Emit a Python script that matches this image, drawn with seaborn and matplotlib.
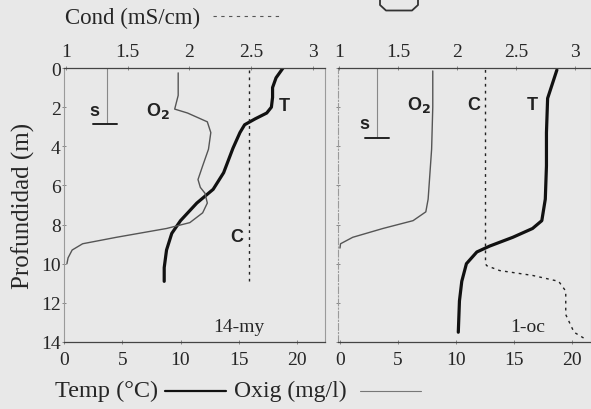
import matplotlib
matplotlib.use("Agg")
import matplotlib.pyplot as plt
import seaborn as sns
import pandas as pd
from matplotlib.lines import Line2D

# ---------------- data ----------------
# Panel 1: 14-my
t1_depth = [0.0, 0.5, 1.0, 1.5, 2.0, 2.3, 2.6, 2.9, 3.3, 4.1, 5.35, 6.2, 6.9, 7.8, 8.45, 9.3, 10.2, 10.9]
t1_temp = [18.8, 18.2, 17.9, 17.9, 17.8, 17.4, 16.4, 15.5, 15.1, 14.5, 13.7, 12.8, 11.4, 10.0, 9.25, 8.8, 8.6, 8.6]
o1_depth = [0.25, 1.4, 2.1, 2.3, 2.75, 3.3, 4.15, 5.0, 5.7, 6.1, 6.4, 6.9, 7.4, 7.9, 8.2, 8.65, 8.98, 9.3, 9.7, 10.0]
o1_oxy = [9.8, 9.8, 9.5, 10.6, 12.3, 12.6, 12.4, 11.9, 11.5, 11.7, 12.1, 12.3, 11.9, 10.8, 8.8, 4.5, 1.6, 0.7, 0.35, 0.25]
c1_depth = [0.1, 10.9]
c1_cond = [2.48, 2.48]

# Panel 2: 1-oc
t2_depth = [0.1, 1.55, 3.3, 5.0, 6.7, 7.8, 8.2, 8.65, 9.1, 9.4, 10.0, 10.9, 11.9, 13.5]
t2_temp = [18.7, 17.9, 17.8, 17.8, 17.7, 17.4, 16.6, 14.9, 12.9, 11.8, 10.9, 10.5, 10.3, 10.2]
o2_depth = [0.15, 2.0, 4.15, 6.7, 7.35, 7.8, 8.2, 8.65, 8.98, 9.2]
o2_oxy = [8.0, 8.0, 7.9, 7.6, 7.4, 6.3, 3.7, 1.1, 0.05, 0.0]
c2_depth = [0.1, 10.0, 10.1, 10.35, 10.6, 10.9, 11.4, 12.6, 13.5, 13.9]
c2_cond = [2.24, 2.24, 2.25, 2.36, 2.64, 2.86, 2.92, 2.92, 2.99, 3.10]

secchi_depth = [2.85, 3.6]
panel_names = ["14-my", "1-oc"]
temp_ticks = [0, 5, 10, 15, 20]
cond_ticks = [1, 1.5, 2, 2.5, 3]
cond_labels = ["1", "1.5", "2", "2.5", "3"]
depth_ticks = [0, 2, 4, 6, 8, 10, 12, 14]

# ---------------- style ----------------
sns.set_theme(style="white")
BG = "#e8e8e8"
plt.rcParams["font.family"] = ["Liberation Serif", "DejaVu Serif"]
plt.rcParams["figure.facecolor"] = BG
plt.rcParams["axes.facecolor"] = "none"
TICK_FS = 14

W, H = 591, 410
fig = plt.figure(figsize=(W / 100, H / 100), dpi=100)


def fx(px):
    return px / W


def fy(py):
    return 1 - py / H


TOP, BOT = 69, 343
panels = [
    dict(rect=[fx(64), fy(BOT), fx(325) - fx(64), fy(TOP) - fy(BOT)],
         xlim=(0, 22.4), clim=(0.984, 3.097),
         T=(t1_temp, t1_depth), O=(o1_oxy, o1_depth), C=(c1_cond, c1_depth),
         sx=3.7, sbar=(2.5, 4.55), ylabels=True,
         texts=[("s", 2.6, 2.15), ("O$_\\mathbf{2}$", 8.1, 2.15), ("T", 18.9, 1.9), ("C", 14.8, 8.6)],
         name_x=15.0),
    dict(rect=[fx(338), fy(BOT), fx(591) - fx(338), fy(TOP) - fy(BOT)],
         xlim=(-0.17, 21.64), clim=(0.99, 3.134),
         T=(t2_temp, t2_depth), O=(o2_oxy, o2_depth), C=(c2_cond, c2_depth),
         sx=3.2, sbar=(2.15, 4.2), ylabels=False,
         texts=[("s", 2.1, 2.85), ("O$_\\mathbf{2}$", 6.8, 1.85), ("C", 11.5, 1.85), ("T", 16.6, 1.85)],
         name_x=16.2),
]

for i, p in enumerate(panels):
    ax = fig.add_axes(p["rect"])
    dfT = pd.DataFrame({"x": p["T"][0], "d": p["T"][1]})
    dfO = pd.DataFrame({"x": p["O"][0], "d": p["O"][1]})
    sns.lineplot(data=dfT, x="x", y="d", sort=False, estimator=None, ax=ax,
                 color="#111111", lw=2.3, solid_capstyle="round")
    sns.lineplot(data=dfO, x="x", y="d", sort=False, estimator=None, ax=ax,
                 color="#555555", lw=1.0)
    ax.set_xlim(*p["xlim"])
    ax.set_ylim(14, 0)
    ax.set_xticks(temp_ticks)
    ax.set_xticklabels([str(t) for t in temp_ticks], fontsize=TICK_FS)
    ax.set_yticks(depth_ticks)
    if p["ylabels"]:
        ax.set_yticklabels([str(t) for t in depth_ticks], fontsize=TICK_FS)
        ax.set_ylabel("Profundidad (m)", fontsize=18, labelpad=4)
    else:
        ax.set_yticklabels([])
        ax.set_ylabel("")
    ax.set_xlabel("")
    ax.tick_params(axis="both", length=3, width=0.6, color="#777777",
                   bottom=True, left=True, direction="inout")
    ax.tick_params(axis="x", pad=5)
    ax.tick_params(axis="y", pad=1)
    for s in ["left", "right"]:
        ax.spines[s].set_color("#9a9a9a")
        ax.spines[s].set_linewidth(0.8)
    ax.spines["bottom"].set_color("#444444")
    ax.spines["bottom"].set_linewidth(0.9)
    ax.spines["top"].set_visible(False)
    if i == 1:
        ax.spines["left"].set_linestyle((0, (6, 2, 1, 2)))

    # secchi marker
    ax.plot([p["sx"], p["sx"]], [0, secchi_depth[i]], color="#888888", lw=0.8)
    ax.plot(list(p["sbar"]), [secchi_depth[i]] * 2, color="#222222", lw=1.4)

    for txt, x, y in p["texts"]:
        ax.text(x, y, txt, fontsize=13, fontweight="bold", ha="center", va="center",
                family=["Liberation Sans", "DejaVu Sans"], color="#222222")
    ax.text(p["name_x"], 13.2, panel_names[i], fontsize=14, ha="center", va="center")

    # conductivity on top axis
    tw = ax.twiny()
    dfC = pd.DataFrame({"c": p["C"][0], "d": p["C"][1]})
    sns.lineplot(data=dfC, x="c", y="d", sort=False, estimator=None, ax=tw,
                 color="#222222", lw=1.0, linestyle=(0, (2, 3)))
    tw.set_xlim(*p["clim"])
    tw.set_ylim(14, 0)
    tw.set_xticks(cond_ticks)
    tw.set_xticklabels(cond_labels, fontsize=TICK_FS)
    tw.set_xlabel("")
    tw.set_ylabel("")
    tw.tick_params(axis="x", top=True, length=3, width=0.6, color="#777777", pad=4,
                   direction="inout")
    tw.spines["top"].set_color("#444444")
    tw.spines["top"].set_linewidth(0.9)
    for s in ["left", "right", "bottom"]:
        tw.spines[s].set_visible(False)

# header: conductivity legend
fig.text(fx(65), fy(18), "Cond (mS/cm)", fontsize=16.5, ha="left", va="center")
fig.add_artist(Line2D([fx(213), fx(282)], [fy(17), fy(17)], color="#555555", lw=0.8,
                      linestyle=(0, (3, 4))))

# footer: temperature / oxygen legend
fig.text(fx(55), fy(391), "Temp (°C)", fontsize=17.5, ha="left", va="center")
fig.add_artist(Line2D([fx(165), fx(226)], [fy(392), fy(392)], color="#111111", lw=1.6))
fig.text(fx(234), fy(391), "Oxig (mg/l)", fontsize=17, ha="left", va="center")
fig.add_artist(Line2D([fx(360), fx(421)], [fy(392), fy(392)], color="#777777", lw=0.8))

# scan artifact outline at the top
fig.add_artist(Line2D([fx(380), fx(380), fx(386), fx(412), fx(418), fx(418)],
                      [fy(0), fy(6), fy(11.5), fy(11.5), fy(6), fy(0)],
                      color="#333333", lw=1.3))

fig.savefig("out.png", dpi=100, facecolor=BG)
